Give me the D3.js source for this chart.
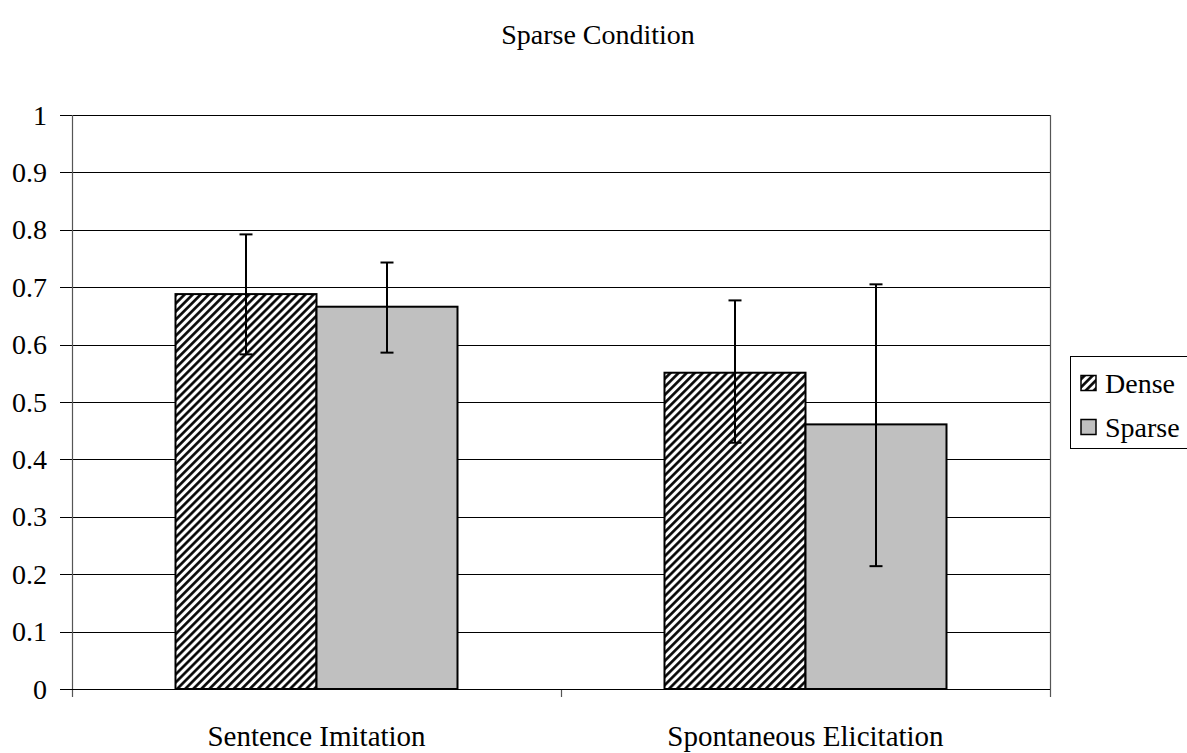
<!DOCTYPE html>
<meta charset="utf-8">
<head>
<style>
  body { margin: 0; background: #fff; }
</style>
</head>
<body>
<svg width="1187" height="753"></svg>
<script src="https://d3js.org/d3.v7.min.js"></script>
<script>
var categories = ["Sentence Imitation", "Spontaneous Elicitation"];
var seriesNames = ["Dense", "Sparse"];
var dense = [0.688, 0.551];
var sparse = [0.666, 0.461];
var denseErrLow = [0.583, 0.429];
var denseErrHigh = [0.792, 0.677];
var sparseErrLow = [0.586, 0.214];
var sparseErrHigh = [0.743, 0.705];
var yTicks = [0, 0.1, 0.2, 0.3, 0.4, 0.5, 0.6, 0.7, 0.8, 0.9, 1];

var FONT = "'Liberation Serif', 'Times New Roman', serif";

var svg = d3.select("svg").style("font-family", FONT),
    margin = {top: 115, left: 72},
    width = 978,
    height = 574,
    g = svg.append("g").attr("transform", "translate(" + margin.left + "," + margin.top + ")");

var defs = svg.append("defs");
var pat = defs.append("pattern")
    .attr("id", "hatch")
    .attr("patternUnits", "userSpaceOnUse")
    .attr("width", 5.7).attr("height", 5.7)
    .attr("patternTransform", "rotate(45)");
pat.append("rect").attr("width", 5.7).attr("height", 5.7).attr("fill", "#fff");
pat.append("line").attr("x1", 1.4).attr("x2", 1.4).attr("y1", 0).attr("y2", 5.7)
    .attr("stroke", "#000").attr("stroke-width", 2.6);

var fills = ["url(#hatch)", "#c0c0c0"];

var x0 = d3.scaleBand().domain(categories).range([0, width]);
var x1 = d3.scaleBand().domain(seriesNames).range([0, 282]);
var y = d3.scaleLinear().domain([0, 1]).range([height, 0]);

// title
svg.append("text")
    .attr("x", 598).attr("y", 44)
    .attr("text-anchor", "middle")
    .attr("font-size", 28)
    .text("Sparse Condition");

// gridlines
g.selectAll(".grid").data(yTicks).enter().append("line")
    .attr("x1", -12).attr("x2", width)
    .attr("y1", function(d) { return Math.round(y(d)) + 0.5; })
    .attr("y2", function(d) { return Math.round(y(d)) + 0.5; })
    .attr("stroke", "#000").attr("stroke-width", 1);

// y tick labels
g.selectAll(".ylab").data(yTicks).enter().append("text")
    .attr("x", -25)
    .attr("y", function(d) { return y(d); })
    .attr("dy", "0.34em")
    .attr("text-anchor", "end")
    .attr("font-size", 28)
    .text(function(d) { return d3.format("")(+d.toFixed(1)); });

// left axis, right border, x ticks
g.append("line").attr("x1", 0.5).attr("x2", 0.5).attr("y1", 0).attr("y2", height + 8)
    .attr("stroke", "#555").attr("stroke-width", 1.2);
g.append("line").attr("x1", width + 0.5).attr("x2", width + 0.5).attr("y1", 0).attr("y2", height + 8)
    .attr("stroke", "#555").attr("stroke-width", 1.2);
g.append("line").attr("x1", width / 2 + 0.5).attr("x2", width / 2 + 0.5).attr("y1", height).attr("y2", height + 8)
    .attr("stroke", "#555").attr("stroke-width", 1.2);

// bars
var series = [dense, sparse];
var errLow = [denseErrLow, sparseErrLow];
var errHigh = [denseErrHigh, sparseErrHigh];

categories.forEach(function(c, ci) {
  var gx = x0(c) + (x0.bandwidth() - 282) / 2;
  seriesNames.forEach(function(s, si) {
    var bx = gx + x1(s);
    g.append("rect")
        .attr("x", bx).attr("y", y(series[si][ci]))
        .attr("width", x1.bandwidth()).attr("height", height - y(series[si][ci]))
        .attr("fill", fills[si]).attr("stroke", "#000").attr("stroke-width", 2);
  });
});

// x-axis line over bars
g.append("line").attr("x1", -12).attr("x2", width).attr("y1", height + 0.5).attr("y2", height + 0.5)
    .attr("stroke", "#000").attr("stroke-width", 1.2);

// error bars
categories.forEach(function(c, ci) {
  var gx = x0(c) + (x0.bandwidth() - 282) / 2;
  seriesNames.forEach(function(s, si) {
    var cx = gx + x1(s) + x1.bandwidth() / 2;
    var lo = y(errLow[si][ci]), hi = y(errHigh[si][ci]);
    g.append("line").attr("x1", cx).attr("x2", cx).attr("y1", lo).attr("y2", hi)
        .attr("stroke", "#000").attr("stroke-width", 2);
    [lo, hi].forEach(function(yy) {
      g.append("line").attr("x1", cx - 6.5).attr("x2", cx + 6.5).attr("y1", yy).attr("y2", yy)
          .attr("stroke", "#000").attr("stroke-width", 2);
    });
  });
});

// category labels
g.selectAll(".xlab").data(categories).enter().append("text")
    .attr("x", function(d) { return x0(d) + x0.bandwidth() / 2; })
    .attr("y", height + 57)
    .attr("text-anchor", "middle")
    .attr("font-size", 29)
    .text(function(d) { return d; });

// legend
var leg = svg.append("g").attr("transform", "translate(1070,356)");
leg.append("rect").attr("x", 0.5).attr("y", 0.5).attr("width", 140).attr("height", 92)
    .attr("fill", "#fff").attr("stroke", "#000").attr("stroke-width", 1);
seriesNames.forEach(function(s, i) {
  var cy = 27 + i * 44;
  leg.append("rect").attr("x", 11).attr("y", cy - 7.5).attr("width", 15).attr("height", 15)
      .attr("fill", fills[i]).attr("stroke", "#000").attr("stroke-width", 1.5);
  leg.append("text").attr("x", 35).attr("y", cy + 10)
      .attr("font-size", 28).text(s);
});
</script>
</body>
